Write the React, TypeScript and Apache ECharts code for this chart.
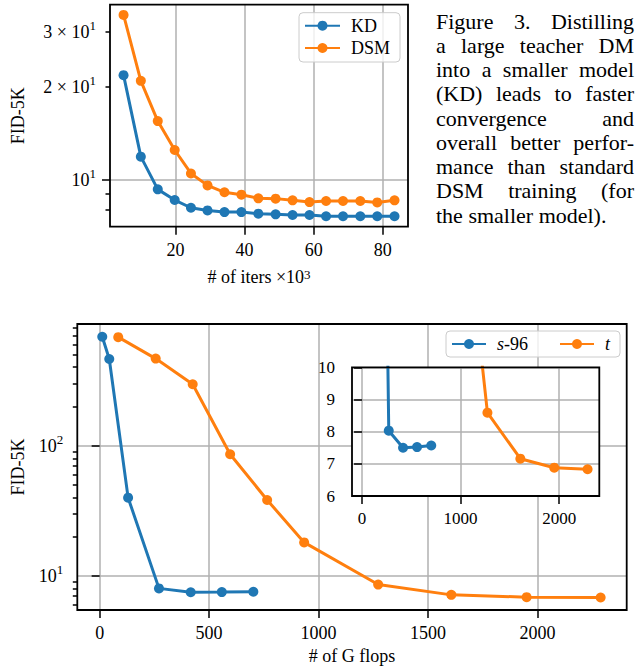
import React, { useEffect, useRef } from 'react';
import * as echarts from 'echarts';

const W = 644;
const H = 667;
const FONT = '"Liberation Serif", "Times New Roman", "DejaVu Serif", serif';
const BLUE = '#1f77b4';
const ORANGE = '#ff7f0e';
const GRIDC = '#b0b0b0';

// ---------- Top chart data ----------
const itersK = [5, 10, 14.9, 19.8, 24.5, 29.3, 34.2, 39.1, 44, 49, 53.9, 58.8, 63.6, 68.5, 73.5, 78.4, 83.4];
const fidKD = [21.8, 11.9, 9.33, 8.62, 8.14, 7.98, 7.88, 7.88, 7.79, 7.75, 7.71, 7.71, 7.64, 7.64, 7.64, 7.64, 7.64];
const fidDSM = [34.1, 20.9, 15.5, 12.5, 10.5, 9.61, 9.13, 8.97, 8.73, 8.71, 8.6, 8.49, 8.56, 8.56, 8.56, 8.47, 8.6];

const topXTicks = [20, 40, 60, 80];
const topYTickValues = [10, 20, 30];
const topYTickLabels = ['{b|10}{s|1}', '{b|2 × 10}{s|1}', '{b|3 × 10}{s|1}'];
const topYMajorTicks = [10];
const topYMinorTicks = [8, 9, 20, 30];

// ---------- Bottom chart data ----------
const flopsS96 = [12, 44, 130, 271, 416, 558, 702];
const fidS96 = [686, 463, 39.9, 8.03, 7.5, 7.52, 7.57];
const flopsT = [85, 256, 425, 596, 765, 934, 1272, 1606, 1950, 2288];
const fidT = [681, 466, 296, 85.9, 38.3, 18.1, 8.59, 7.16, 6.88, 6.83];

const mainXTicks = [0, 500, 1000, 1500, 2000];
const mainYTickValues = [10, 100];
const mainYTickLabels = ['{b|10}{s|1}', '{b|10}{s|2}'];
const mainYMinorTicks = [6, 7, 8, 9, 20, 30, 40, 50, 60, 70, 80, 90, 200, 300, 400, 500, 600, 700, 800];
const insetXTicks = [0, 1000, 2000];

// ---------- Caption ----------
const CAPTION_LINES = [
  'Figure 3.  Distilling',
  'a large teacher DM',
  'into a smaller model',
  '(KD) leads to faster',
  'convergence and',
  'overall better perfor-',
  'mance than standard',
  'DSM training (for',
  'the smaller model).',
];

// ---------- Layout ----------
const topGrid = { left: 110, top: 4.7, width: 298, height: 222 };
const mainGrid = { left: 77.3, top: 324, width: 549.4, height: 286 };
const insetGrid = { left: 352, top: 367.3, width: 247.3, height: 128.7 };
const CAP = { left: 436, right: 634, top: 21, leading: 24.25, size: 22 };

const zip = (xs: number[], ys: number[]) => xs.map((x, i) => [x, ys[i]]);
const lookup = (vals: number[], labels: string[]) => (v: number) => {
  const i = vals.findIndex((t) => Math.abs(t - v) < 1e-6 * t);
  return i >= 0 ? labels[i] : '';
};
const plain = (v: number) => String(Math.round(v));

const tickLine = { color: '#000', width: 1.5 };
const labelStyle = { color: '#000', fontSize: 18, fontFamily: FONT };
const supRich = {
  b: { fontSize: 18, fontFamily: FONT, color: '#000', lineHeight: 26, verticalAlign: 'middle' },
  s: { fontSize: 13, fontFamily: FONT, color: '#000', lineHeight: 14, verticalAlign: 'top' },
};
const splitStyle = { show: true, lineStyle: { color: GRIDC, width: 1.5 } };

function captionElements(): any[] {
  const canvas = document.createElement('canvas');
  const ctx = canvas.getContext('2d');
  if (ctx) ctx.font = `${CAP.size}px ${FONT}`;
  const measure = (s: string) => (ctx ? ctx.measureText(s).width : s.length * CAP.size * 0.45);
  const els: any[] = [];
  CAPTION_LINES.forEach((line, li) => {
    const words = line.split(/\s+/);
    const y = CAP.top + li * CAP.leading;
    const widths = words.map(measure);
    const total = widths.reduce((a, b) => a + b, 0);
    const isLast = li === CAPTION_LINES.length - 1;
    const gap = isLast || words.length < 2 ? measure(' ') : (CAP.right - CAP.left - total) / (words.length - 1);
    let x = CAP.left;
    words.forEach((w, wi) => {
      els.push({
        type: 'text',
        x,
        y,
        silent: true,
        style: { text: w, fontSize: CAP.size, fontFamily: FONT, fill: '#000', align: 'left', verticalAlign: 'middle' },
      });
      x += widths[wi] + gap;
    });
  });
  return els;
}

function frame(g: { left: number; top: number; width: number; height: number }) {
  return {
    type: 'rect',
    silent: true,
    z: 100,
    shape: { x: g.left, y: g.top, width: g.width, height: g.height },
    style: { fill: 'none', stroke: '#000', lineWidth: 1.8 },
  };
}

function lineSeries(name: string, color: string, data: number[][], xi: number, yi: number, z = 2) {
  return {
    type: 'line',
    name,
    xAxisIndex: xi,
    yAxisIndex: yi,
    data,
    z,
    symbol: 'circle',
    symbolSize: 10,
    showSymbol: true,
    clip: true,
    lineStyle: { color, width: 3 },
    itemStyle: { color },
    emphasis: { disabled: true },
  };
}

function buildOption(): any {
  return {
    animation: false,
    backgroundColor: '#fff',
    textStyle: { fontFamily: FONT },
    grid: [
      { ...topGrid, show: false, outerBoundsMode: 'none' },
      { ...mainGrid, show: false, outerBoundsMode: 'none' },
      { ...insetGrid, show: true, backgroundColor: '#fff', borderWidth: 0, z: 1, outerBoundsMode: 'none' },
    ],
    xAxis: [
      {
        gridIndex: 0,
        type: 'value',
        min: 1.08,
        max: 87.3,
        axisLine: { show: false },
        splitLine: splitStyle,
        axisTick: { show: true, customValues: topXTicks, length: 8, lineStyle: tickLine },
        axisLabel: { ...labelStyle, customValues: topXTicks, margin: 14, formatter: plain },
        name: '# of iters ×10{s|3}',
        nameLocation: 'middle',
        nameGap: 41,
        nameTextStyle: { ...labelStyle, rich: supRich },
      },
      {
        gridIndex: 1,
        type: 'value',
        min: -102,
        max: 2407,
        axisLine: { show: false },
        splitLine: splitStyle,
        axisTick: { show: true, customValues: mainXTicks, length: 8, lineStyle: tickLine },
        axisLabel: { ...labelStyle, customValues: mainXTicks, margin: 14, formatter: plain },
        name: '# of G flops',
        nameLocation: 'middle',
        nameGap: 37,
        nameTextStyle: { ...labelStyle },
      },
      {
        gridIndex: 2,
        type: 'value',
        min: -102,
        max: 2407,
        splitNumber: 2,
        z: 1,
        axisLine: { show: false },
        splitLine: splitStyle,
        axisTick: { show: true, customValues: insetXTicks, length: 8, lineStyle: tickLine },
        axisLabel: { ...labelStyle, fontSize: 17, customValues: insetXTicks, margin: 14, formatter: plain },
      },
    ],
    yAxis: [
      {
        gridIndex: 0,
        type: 'log',
        logBase: 10,
        min: 7.07,
        max: 36.8,
        position: 'left',
        axisLine: { show: false },
        splitLine: splitStyle,
        axisTick: { show: true, customValues: topYMajorTicks, length: 8, lineStyle: tickLine },
        axisLabel: {
          ...labelStyle,
          customValues: topYTickValues,
          margin: 14,
          rich: supRich,
          formatter: lookup(topYTickValues, topYTickLabels),
        },
        name: 'FID-5K',
        nameLocation: 'middle',
        nameGap: 83,
        nameTextStyle: { ...labelStyle },
      },
      {
        gridIndex: 0,
        type: 'log',
        logBase: 10,
        min: 7.07,
        max: 36.8,
        position: 'left',
        axisLine: { show: false },
        splitLine: { show: false },
        axisLabel: { show: false },
        axisTick: { show: true, customValues: topYMinorTicks, length: 4.5, lineStyle: tickLine },
      },
      {
        gridIndex: 1,
        type: 'log',
        logBase: 10,
        min: 5.48,
        max: 859,
        position: 'left',
        axisLine: { show: false },
        splitLine: splitStyle,
        axisTick: { show: true, customValues: mainYTickValues, length: 8, lineStyle: tickLine },
        axisLabel: {
          ...labelStyle,
          customValues: mainYTickValues,
          margin: 14,
          rich: supRich,
          formatter: lookup(mainYTickValues, mainYTickLabels),
        },
        name: 'FID-5K',
        nameLocation: 'middle',
        nameGap: 50.5,
        nameTextStyle: { ...labelStyle },
      },
      {
        gridIndex: 1,
        type: 'log',
        logBase: 10,
        min: 5.48,
        max: 859,
        position: 'left',
        axisLine: { show: false },
        splitLine: { show: false },
        axisLabel: { show: false },
        axisTick: { show: true, customValues: mainYMinorTicks, length: 4.5, lineStyle: tickLine },
      },
      {
        gridIndex: 2,
        type: 'value',
        min: 6,
        max: 10,
        interval: 1,
        position: 'left',
        z: 1,
        axisLine: { show: false },
        splitLine: splitStyle,
        axisTick: { show: true, length: 8, lineStyle: tickLine },
        axisLabel: { ...labelStyle, fontSize: 17, margin: 17, formatter: plain },
      },
    ],
    legend: [
      {
        data: ['KD', 'DSM'],
        orient: 'vertical',
        left: 299,
        top: 12.7,
        padding: [4, 10, 5, 5],
        itemGap: 4.3,
        itemWidth: 35,
        itemHeight: 12.5,
        selectedMode: false,
        backgroundColor: 'rgba(255,255,255,0.8)',
        borderColor: '#cccccc',
        borderWidth: 1,
        borderRadius: 4,
        textStyle: { ...labelStyle, padding: [0, 0, 0, 6] },
      },
      {
        data: ['s-96', 't'],
        orient: 'horizontal',
        left: 446,
        top: 331,
        padding: [4, 10, 4, 5],
        itemGap: 31,
        itemWidth: 34,
        itemHeight: 12.5,
        selectedMode: false,
        backgroundColor: 'rgba(255,255,255,0.8)',
        borderColor: '#cccccc',
        borderWidth: 1,
        borderRadius: 4,
        formatter: (name: string) => (name === 's-96' ? '{i|s}-96' : '{i|t}'),
        textStyle: {
          ...labelStyle,
          padding: [0, 0, 0, 6],
          rich: { i: { fontStyle: 'italic', fontSize: 18, fontFamily: FONT, color: '#000' } },
        },
      },
    ],
    series: [
      lineSeries('KD', BLUE, zip(itersK, fidKD), 0, 0),
      lineSeries('DSM', ORANGE, zip(itersK, fidDSM), 0, 0),
      lineSeries('s-96', BLUE, zip(flopsS96, fidS96), 1, 2),
      lineSeries('t', ORANGE, zip(flopsT, fidT), 1, 2),
      lineSeries('s-96', BLUE, zip(flopsS96, fidS96), 2, 4, 3),
      lineSeries('t', ORANGE, zip(flopsT, fidT), 2, 4, 3),
    ],
    graphic: [frame(topGrid), frame(mainGrid), frame(insetGrid), ...captionElements()],
  };
}

export default function App() {
  const ref = useRef<HTMLDivElement>(null);
  useEffect(() => {
    if (!ref.current) return;
    const chart = echarts.init(ref.current, null, { renderer: 'svg' });
    chart.setOption(buildOption());
    return () => chart.dispose();
  }, []);
  return (
    <div
      ref={ref}
      style={{ position: 'absolute', left: 0, top: 0, width: W, height: H, background: '#fff' }}
    />
  );
}
